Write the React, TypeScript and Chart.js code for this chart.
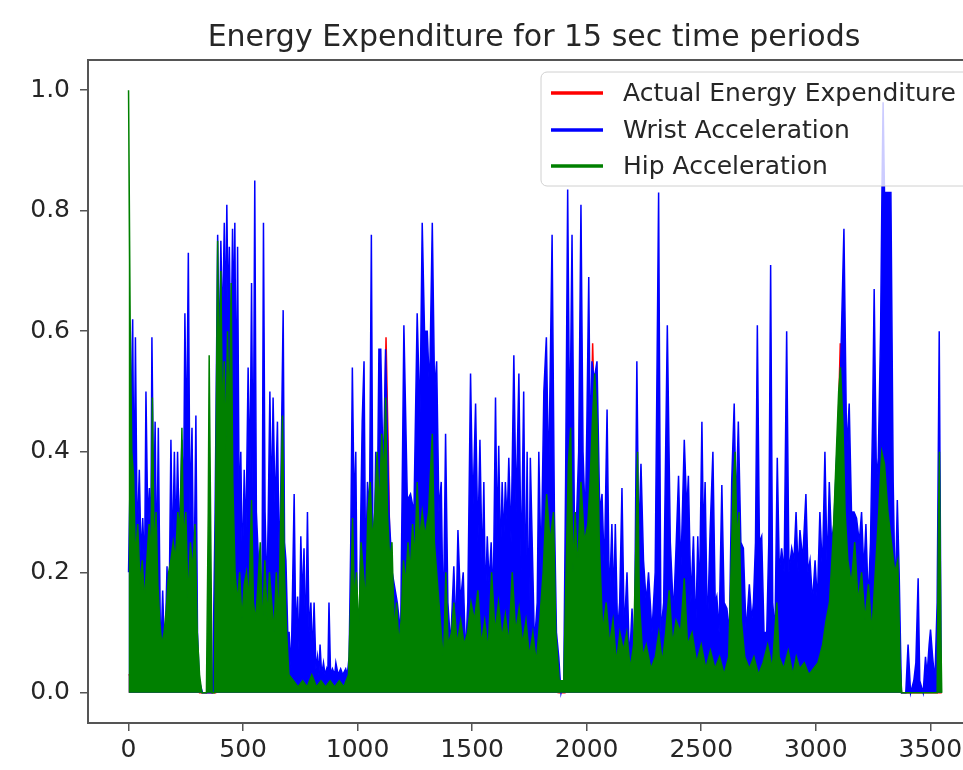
import React, { useEffect, useRef } from "react";
import { Chart, registerables } from "chart.js";

Chart.register(...registerables);

const chartTitle = "Energy Expenditure for 15 sec time periods";
const seriesNames = ["Actual Energy Expenditure", "Wrist Acceleration", "Hip Acceleration"];
const seriesColors = ["#ff0000", "#0000ff", "#008000"];
const xTickValues = [0, 500, 1000, 1500, 2000, 2500, 3000, 3500];
const yTickValues = [0, 0.2, 0.4, 0.6, 0.8, 1.0];

// [time period index, value]
const actualEnergy: number[][] = [
  [0, 0.03], [100, 0.03], [110, 0.06], [120, 0.02], [300, 0.02], [310, 0.0], [380, 0.0], [390, 0.1],
  [400, 0.05], [700, 0.02], [1035, 0.02], [1040, 0.04], [1045, 0.02], [1100, 0.1], [1112, 0.3],
  [1124, 0.59], [1134, 0.4], [1142, 0.2], [1150, 0.05], [1880, 0.0], [1905, 0.0], [1915, 0.03],
  [2010, 0.2], [2020, 0.45], [2026, 0.58], [2034, 0.45], [2045, 0.2], [2060, 0.05], [3080, 0.1],
  [3095, 0.4], [3107, 0.58], [3115, 0.45], [3125, 0.2], [3140, 0.05], [3368, 0.02], [3375, 0.0],
  [3550, 0.0],
];

const wristAccel: number[][] = [
  [0, 0.2], [18, 0.62], [24, 0.3], [30, 0.59], [38, 0.25], [47, 0.37], [55, 0.22], [62, 0.29], [70, 0.2],
  [76, 0.5], [84, 0.28], [91, 0.34], [97, 0.22], [102, 0.59], [110, 0.3], [116, 0.45], [123, 0.2],
  [130, 0.44], [140, 0.05], [149, 0.17], [158, 0.05], [168, 0.21], [176, 0.1], [185, 0.42], [192, 0.22],
  [200, 0.4], [207, 0.25], [214, 0.4], [222, 0.25], [233, 0.42], [240, 0.3], [246, 0.63], [253, 0.4],
  [261, 0.73], [268, 0.3], [277, 0.44], [285, 0.15], [294, 0.46], [301, 0.1], [309, 0.02], [323, 0.0],
  [367, 0.0], [378, 0.3], [389, 0.76], [396, 0.55], [403, 0.75], [410, 0.6], [418, 0.78], [424, 0.6],
  [429, 0.81], [435, 0.62], [440, 0.74], [447, 0.55], [454, 0.77], [459, 0.6], [464, 0.78], [470, 0.45],
  [476, 0.74], [483, 0.3], [490, 0.4], [497, 0.2], [505, 0.37], [512, 0.25], [522, 0.54], [530, 0.35],
  [537, 0.68], [544, 0.3], [551, 0.85], [558, 0.3], [566, 0.23], [572, 0.1], [578, 0.1], [583, 0.2],
  [589, 0.78], [596, 0.3], [604, 0.16], [610, 0.3], [617, 0.5], [624, 0.3], [631, 0.49], [640, 0.3],
  [650, 0.45], [658, 0.2], [665, 0.35], [675, 0.635], [681, 0.25], [687, 0.22], [695, 0.1], [701, 0.1],
  [710, 0.04], [723, 0.33], [730, 0.1], [738, 0.16], [745, 0.06], [752, 0.26], [759, 0.15], [766, 0.24],
  [773, 0.08], [781, 0.3], [788, 0.1], [796, 0.15], [803, 0.06], [810, 0.15], [818, 0.04], [825, 0.06],
  [831, 0.03], [836, 0.08], [843, 0.03], [851, 0.05], [858, 0.03], [865, 0.04], [870, 0.03], [875, 0.15],
  [882, 0.03], [890, 0.04], [900, 0.03], [905, 0.05], [915, 0.03], [926, 0.04], [935, 0.03], [948, 0.04],
  [955, 0.03], [963, 0.06], [970, 0.25], [977, 0.54], [985, 0.3], [992, 0.4], [999, 0.1], [1006, 0.06],
  [1014, 0.3], [1020, 0.45], [1028, 0.55], [1035, 0.2], [1043, 0.35], [1052, 0.3], [1060, 0.76],
  [1066, 0.3], [1072, 0.22], [1079, 0.4], [1086, 0.3], [1093, 0.57], [1101, 0.57], [1112, 0.35],
  [1122, 0.57], [1137, 0.3], [1151, 0.2], [1173, 0.15], [1188, 0.1], [1202, 0.61], [1217, 0.32],
  [1231, 0.33], [1246, 0.3], [1260, 0.63], [1272, 0.45], [1282, 0.78], [1292, 0.6], [1304, 0.6],
  [1314, 0.5], [1326, 0.78], [1336, 0.5], [1345, 0.55], [1355, 0.3], [1365, 0.35], [1374, 0.1],
  [1384, 0.43], [1394, 0.15], [1406, 0.08], [1420, 0.21], [1429, 0.1], [1438, 0.27], [1449, 0.15],
  [1461, 0.2], [1471, 0.06], [1481, 0.15], [1493, 0.53], [1503, 0.3], [1515, 0.48], [1525, 0.25],
  [1534, 0.42], [1544, 0.2], [1551, 0.35], [1558, 0.15], [1566, 0.26], [1574, 0.18], [1583, 0.25],
  [1592, 0.15], [1602, 0.49], [1609, 0.25], [1616, 0.41], [1624, 0.22], [1631, 0.35], [1638, 0.25],
  [1645, 0.35], [1653, 0.28], [1660, 0.39], [1670, 0.25], [1682, 0.56], [1692, 0.3], [1704, 0.53],
  [1714, 0.2], [1725, 0.5], [1733, 0.15], [1740, 0.4], [1747, 0.1], [1754, 0.39], [1765, 0.2],
  [1772, 0.08], [1784, 0.15], [1791, 0.4], [1801, 0.2], [1813, 0.5], [1824, 0.59], [1834, 0.35],
  [1849, 0.76], [1859, 0.3], [1868, 0.1], [1878, 0.06], [1888, 0.0], [1900, 0.02], [1908, 0.35],
  [1917, 0.835], [1926, 0.4], [1936, 0.76], [1946, 0.3], [1955, 0.28], [1965, 0.4], [1975, 0.81],
  [1984, 0.4], [1994, 0.28], [2001, 0.45], [2009, 0.69], [2016, 0.4], [2023, 0.55], [2033, 0.52],
  [2045, 0.55], [2057, 0.3], [2067, 0.33], [2077, 0.2], [2089, 0.47], [2099, 0.15], [2110, 0.28],
  [2118, 0.15], [2125, 0.28], [2135, 0.1], [2144, 0.15], [2154, 0.34], [2164, 0.1], [2176, 0.2],
  [2187, 0.05], [2198, 0.14], [2208, 0.05], [2219, 0.55], [2227, 0.25], [2237, 0.38], [2248, 0.22],
  [2260, 0.15], [2270, 0.2], [2285, 0.1], [2299, 0.2], [2314, 0.83], [2324, 0.1], [2336, 0.15],
  [2352, 0.61], [2365, 0.25], [2379, 0.13], [2391, 0.25], [2401, 0.36], [2411, 0.2], [2426, 0.42],
  [2437, 0.3], [2444, 0.36], [2455, 0.15], [2466, 0.26], [2476, 0.1], [2485, 0.26], [2492, 0.15],
  [2503, 0.45], [2510, 0.25], [2517, 0.35], [2527, 0.1], [2539, 0.27], [2551, 0.4], [2561, 0.15],
  [2568, 0.16], [2578, 0.1], [2590, 0.345], [2600, 0.15], [2612, 0.14], [2623, 0.1], [2633, 0.35],
  [2644, 0.48], [2652, 0.3], [2662, 0.45], [2673, 0.25], [2684, 0.24], [2696, 0.1], [2710, 0.18],
  [2721, 0.12], [2728, 0.15], [2737, 0.25], [2745, 0.61], [2754, 0.25], [2764, 0.26], [2774, 0.1],
  [2786, 0.1], [2795, 0.25], [2803, 0.71], [2812, 0.15], [2822, 0.1], [2832, 0.39], [2841, 0.2],
  [2851, 0.24], [2862, 0.2], [2873, 0.6], [2883, 0.2], [2895, 0.24], [2905, 0.22], [2914, 0.3],
  [2923, 0.2], [2931, 0.27], [2943, 0.22], [2957, 0.33], [2966, 0.2], [2975, 0.22], [2986, 0.15],
  [2997, 0.22], [3007, 0.15], [3018, 0.3], [3029, 0.2], [3040, 0.4], [3050, 0.2], [3059, 0.35],
  [3069, 0.25], [3079, 0.28], [3091, 0.39], [3106, 0.5], [3123, 0.77], [3135, 0.4], [3146, 0.48],
  [3156, 0.3], [3167, 0.3], [3178, 0.29], [3190, 0.25], [3200, 0.3], [3210, 0.2], [3219, 0.28],
  [3229, 0.15], [3239, 0.25], [3248, 0.45], [3255, 0.67], [3265, 0.35], [3273, 0.39], [3283, 0.6],
  [3289, 0.83], [3294, 0.98], [3300, 0.83], [3313, 0.83], [3328, 0.83], [3338, 0.35], [3347, 0.15],
  [3356, 0.32], [3364, 0.2], [3374, 0.0], [3393, 0.0], [3403, 0.08], [3414, 0.0], [3428, 0.02],
  [3437, 0.05], [3447, 0.19], [3454, 0.02], [3469, 0.0], [3479, 0.06], [3486, 0.03], [3495, 0.08],
  [3501, 0.105], [3510, 0.06], [3520, 0.02], [3530, 0.15], [3539, 0.6], [3548, 0.0],
];

const hipAccel: number[][] = [
  [0, 1.0], [7, 0.62], [14, 0.4], [22, 0.36], [30, 0.22], [40, 0.28], [50, 0.18], [60, 0.22], [70, 0.15],
  [80, 0.22], [90, 0.28], [97, 0.2], [104, 0.49], [112, 0.22], [120, 0.3], [128, 0.18], [136, 0.12],
  [145, 0.08], [155, 0.1], [165, 0.14], [175, 0.2], [185, 0.22], [195, 0.25], [205, 0.22], [215, 0.3],
  [225, 0.27], [233, 0.44], [240, 0.25], [250, 0.3], [260, 0.15], [270, 0.25], [280, 0.2], [290, 0.28],
  [300, 0.1], [310, 0.03], [320, 0.0], [340, 0.0], [348, 0.3], [352, 0.56], [358, 0.3], [365, 0.0],
  [375, 0.0], [382, 0.4], [389, 0.75], [395, 0.5], [403, 0.7], [410, 0.45], [418, 0.55], [425, 0.4],
  [432, 0.6], [440, 0.45], [448, 0.68], [455, 0.35], [465, 0.2], [475, 0.15], [485, 0.2], [495, 0.12],
  [505, 0.18], [515, 0.2], [525, 0.15], [537, 0.32], [545, 0.15], [555, 0.12], [565, 0.18], [575, 0.25],
  [585, 0.1], [595, 0.22], [605, 0.12], [615, 0.2], [625, 0.15], [635, 0.1], [645, 0.2], [655, 0.12],
  [665, 0.3], [672, 0.46], [680, 0.2], [690, 0.1], [700, 0.03], [720, 0.02], [740, 0.01], [760, 0.02],
  [780, 0.01], [800, 0.03], [820, 0.01], [840, 0.02], [860, 0.01], [880, 0.02], [900, 0.01], [920, 0.02],
  [940, 0.01], [960, 0.03], [970, 0.15], [978, 0.29], [986, 0.15], [995, 0.2], [1005, 0.1], [1015, 0.25],
  [1025, 0.2], [1035, 0.15], [1045, 0.3], [1055, 0.35], [1065, 0.25], [1075, 0.3], [1085, 0.4],
  [1095, 0.3], [1105, 0.43], [1115, 0.35], [1122, 0.49], [1130, 0.3], [1140, 0.22], [1150, 0.25],
  [1160, 0.1], [1170, 0.15], [1180, 0.08], [1190, 0.12], [1200, 0.22], [1210, 0.18], [1220, 0.25],
  [1230, 0.2], [1240, 0.28], [1250, 0.22], [1260, 0.35], [1270, 0.25], [1282, 0.3], [1295, 0.26],
  [1310, 0.3], [1326, 0.43], [1335, 0.25], [1345, 0.2], [1355, 0.15], [1365, 0.1], [1375, 0.05],
  [1385, 0.2], [1395, 0.08], [1410, 0.1], [1420, 0.15], [1435, 0.08], [1450, 0.12], [1465, 0.08],
  [1480, 0.1], [1495, 0.15], [1510, 0.12], [1525, 0.17], [1540, 0.08], [1555, 0.12], [1570, 0.07],
  [1585, 0.2], [1600, 0.1], [1615, 0.15], [1630, 0.09], [1645, 0.13], [1660, 0.08], [1675, 0.2],
  [1690, 0.1], [1705, 0.14], [1720, 0.08], [1735, 0.12], [1750, 0.06], [1765, 0.1], [1780, 0.05],
  [1795, 0.12], [1810, 0.2], [1825, 0.33], [1840, 0.25], [1855, 0.3], [1865, 0.1], [1880, 0.02],
  [1900, 0.02], [1910, 0.2], [1920, 0.38], [1930, 0.44], [1940, 0.2], [1950, 0.3], [1960, 0.2],
  [1975, 0.35], [1990, 0.25], [2005, 0.28], [2015, 0.35], [2025, 0.45], [2035, 0.53], [2045, 0.45],
  [2055, 0.25], [2070, 0.1], [2085, 0.15], [2100, 0.08], [2115, 0.12], [2130, 0.05], [2145, 0.1],
  [2160, 0.07], [2175, 0.1], [2190, 0.04], [2205, 0.08], [2215, 0.25], [2222, 0.4], [2230, 0.15],
  [2245, 0.06], [2260, 0.08], [2280, 0.04], [2300, 0.06], [2315, 0.1], [2330, 0.05], [2345, 0.1],
  [2360, 0.17], [2375, 0.08], [2390, 0.12], [2410, 0.1], [2426, 0.19], [2440, 0.08], [2460, 0.1],
  [2480, 0.05], [2500, 0.08], [2520, 0.04], [2540, 0.07], [2560, 0.04], [2580, 0.06], [2600, 0.03],
  [2620, 0.06], [2630, 0.2], [2640, 0.35], [2648, 0.4], [2656, 0.25], [2665, 0.3], [2675, 0.12],
  [2690, 0.06], [2710, 0.04], [2730, 0.06], [2750, 0.03], [2770, 0.05], [2790, 0.08], [2810, 0.04],
  [2830, 0.15], [2840, 0.06], [2860, 0.04], [2880, 0.07], [2900, 0.03], [2915, 0.06], [2930, 0.04],
  [2950, 0.05], [2970, 0.03], [2990, 0.04], [3010, 0.05], [3030, 0.08], [3045, 0.12], [3060, 0.15],
  [3075, 0.25], [3090, 0.4], [3100, 0.5], [3108, 0.54], [3118, 0.45], [3128, 0.3], [3140, 0.22],
  [3155, 0.18], [3170, 0.25], [3185, 0.15], [3200, 0.2], [3215, 0.12], [3230, 0.18], [3245, 0.1],
  [3260, 0.2], [3275, 0.3], [3288, 0.4], [3300, 0.38], [3315, 0.3], [3330, 0.25], [3345, 0.2],
  [3358, 0.22], [3368, 0.05], [3375, 0.0], [3530, 0.0], [3536, 0.3], [3540, 0.4], [3546, 0.1], [3550, 0.0],
];

const FONT = '"DejaVu Sans", sans-serif';

const decorPlugin = {
  id: "decor",
  afterDraw(chart: any) {
    const { ctx, chartArea } = chart;
    ctx.save();
    // top spine
    ctx.strokeStyle = "#555";
    ctx.lineWidth = 2;
    ctx.beginPath();
    ctx.moveTo(chartArea.left, chartArea.top);
    ctx.lineTo(chartArea.right, chartArea.top);
    ctx.stroke();
    // title
    ctx.fillStyle = "#262626";
    ctx.font = `30px ${FONT}`;
    ctx.textAlign = "center";
    ctx.textBaseline = "alphabetic";
    ctx.fillText(chartTitle, (chartArea.left + chartArea.right) / 2, 46);
    // legend
    const bx = 541, by = 72, bw = 440, bh = 114;
    ctx.fillStyle = "rgba(255,255,255,0.8)";
    ctx.strokeStyle = "#d0d0d0";
    ctx.lineWidth = 1;
    ctx.beginPath();
    (ctx as any).roundRect(bx, by, bw, bh, 6);
    ctx.fill();
    ctx.stroke();
    const rows = [93, 130, 166];
    ctx.font = `25px ${FONT}`;
    ctx.textAlign = "left";
    ctx.textBaseline = "middle";
    for (let i = 0; i < 3; i++) {
      ctx.strokeStyle = seriesColors[i];
      ctx.lineWidth = 3.5;
      ctx.beginPath();
      ctx.moveTo(551, rows[i]);
      ctx.lineTo(603, rows[i]);
      ctx.stroke();
      ctx.fillStyle = "#262626";
      ctx.fillText(seriesNames[i], 623, rows[i] + 1);
    }
    ctx.restore();
  },
};

export default function App() {
  const ref = useRef<HTMLCanvasElement | null>(null);
  useEffect(() => {
    if (!ref.current) return;
    const mk = (pts: number[][]) => pts.map((p) => ({ x: p[0], y: p[1] }));
    const sets = [actualEnergy, wristAccel, hipAccel];
    const chart = new Chart(ref.current, {
      type: "line",
      data: {
        datasets: sets.map((s, i) => ({
          label: seriesNames[i],
          data: mk(s),
          borderColor: seriesColors[i],
          backgroundColor: seriesColors[i],
          borderWidth: 1.5,
          pointRadius: 0,
          tension: 0,
          fill: "origin",
          order: 3 - i,
        })),
      },
      options: {
        responsive: false,
        animation: false,
        devicePixelRatio: 1,
        layout: { padding: { top: 60, right: 10, left: 0, bottom: 0 } },
        plugins: {
          legend: { display: false },
          title: { display: false },
          tooltip: { enabled: false },
        },
        scales: {
          x: {
            type: "linear",
            min: -177,
            max: 3717,
            afterFit: (axis: any) => { axis.height = 47; },
            afterBuildTicks: (axis: any) => { axis.ticks = xTickValues.map((v) => ({ value: v })); },
            ticks: {
              autoSkip: false,
              maxRotation: 0,
              padding: 4,
              color: "#262626",
              font: { family: FONT, size: 25 },
              callback: (v: any) => String(v),
            },
            grid: { display: true, drawOnChartArea: false, drawTicks: true, tickLength: 8, color: "#555", lineWidth: 1.5 },
            border: { display: true, color: "#555", width: 2 },
          },
          y: {
            type: "linear",
            min: -0.05,
            max: 1.05,
            afterFit: (axis: any) => { axis.width = 88; },
            afterBuildTicks: (axis: any) => { axis.ticks = yTickValues.map((v) => ({ value: v })); },
            ticks: {
              autoSkip: false,
              padding: 10,
              color: "#262626",
              font: { family: FONT, size: 25 },
              callback: (v: any) => Number(v).toFixed(1),
            },
            grid: { display: true, drawOnChartArea: false, drawTicks: true, tickLength: 8, color: "#555", lineWidth: 1.5 },
            border: { display: true, color: "#555", width: 2 },
          },
        },
      },
      plugins: [decorPlugin],
    });
    return () => chart.destroy();
  }, []);
  return (
    <div style={{ position: "fixed", left: 0, top: 0, width: 963, height: 770, overflow: "hidden", background: "#fff" }}>
      <canvas ref={ref} width={990} height={770} style={{ display: "block" }} />
    </div>
  );
}
